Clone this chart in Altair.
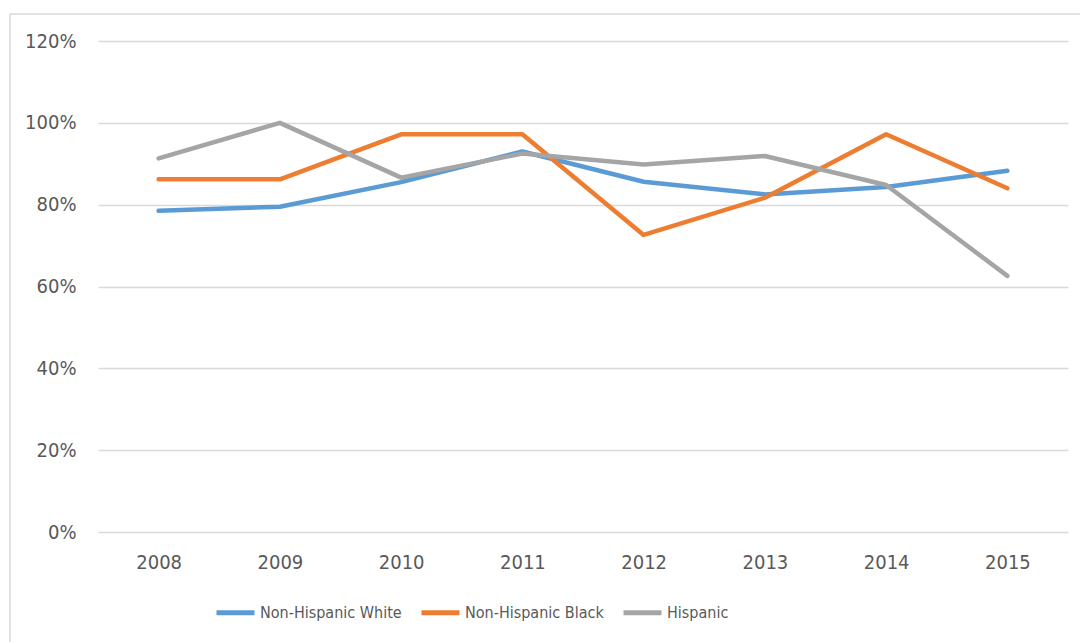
import altair as alt
import pandas as pd

years = ["2008", "2009", "2010", "2011", "2012", "2013", "2014", "2015"]
series_names = ["Non-Hispanic White", "Non-Hispanic Black", "Hispanic"]
white = [0.785, 0.795, 0.855, 0.930, 0.856, 0.825, 0.843, 0.883]
black = [0.862, 0.862, 0.972, 0.972, 0.726, 0.817, 0.972, 0.840]
hispanic = [0.913, 1.000, 0.866, 0.925, 0.898, 0.919, 0.848, 0.626]
colors = ["#5B9BD5", "#ED7D31", "#A5A5A5"]
y_ticks = [0, 0.2, 0.4, 0.6, 0.8, 1.0, 1.2]

rows = []
for name, vals in zip(series_names, [white, black, hispanic]):
    for yr, v in zip(years, vals):
        rows.append({"Year": yr, "Group": name, "Rate": v})
df = pd.DataFrame(rows)

FONT = "'Liberation Sans Narrow', 'DejaVu Sans Condensed', 'Open Sans'"
TEXT = "#595959"
GRID = "#D9D9D9"

# outer frame around the chart
frame = alt.Chart(pd.DataFrame({"k": [0]})).mark_rect(
    fill=None, stroke=GRID, strokeWidth=1.5, clip=False
).encode(
    x=alt.value(-88), x2=alt.value(1000), y=alt.value(-27), y2=alt.value(640)
)

lines = alt.Chart(df).mark_line(strokeWidth=4.5, strokeCap="round", strokeJoin="round").encode(
    x=alt.X("Year:O", sort=years, scale=alt.Scale(type="point", padding=0.5),
            axis=alt.Axis(title=None, labelAngle=0, ticks=False, domain=False,
                          grid=False, labelPadding=20)),
    y=alt.Y("Rate:Q", scale=alt.Scale(domain=[0, 1.2], nice=False),
            axis=alt.Axis(title=None, format=".0%", values=y_ticks, ticks=False,
                          domain=False, grid=True, gridColor=GRID, gridWidth=1.5,
                          labelPadding=22)),
    color=alt.Color("Group:N", sort=series_names,
                    scale=alt.Scale(domain=series_names, range=colors),
                    legend=alt.Legend(title=None, orient="none", direction="horizontal",
                                      legendX=116, legendY=550,
                                      symbolType="stroke", symbolSize=1444,
                                      symbolStrokeWidth=5, labelOffset=3,
                                      labelLimit=400, columnPadding=9, padding=0)),
    order=alt.Order("Year:O"),
)

chart = alt.layer(frame, lines).properties(
    width=970, height=491,
    padding={"left": 98, "top": 41, "right": 12, "bottom": 110},
    autosize=alt.AutoSizeParams(type="none"),
).configure_view(stroke=None).configure_axis(
    labelFont=FONT, labelFontSize=20, labelColor=TEXT
).configure_legend(
    labelFont=FONT, labelFontSize=16, labelColor=TEXT
)

chart.save("out.html", embed_options={"renderer": "svg", "actions": False})
